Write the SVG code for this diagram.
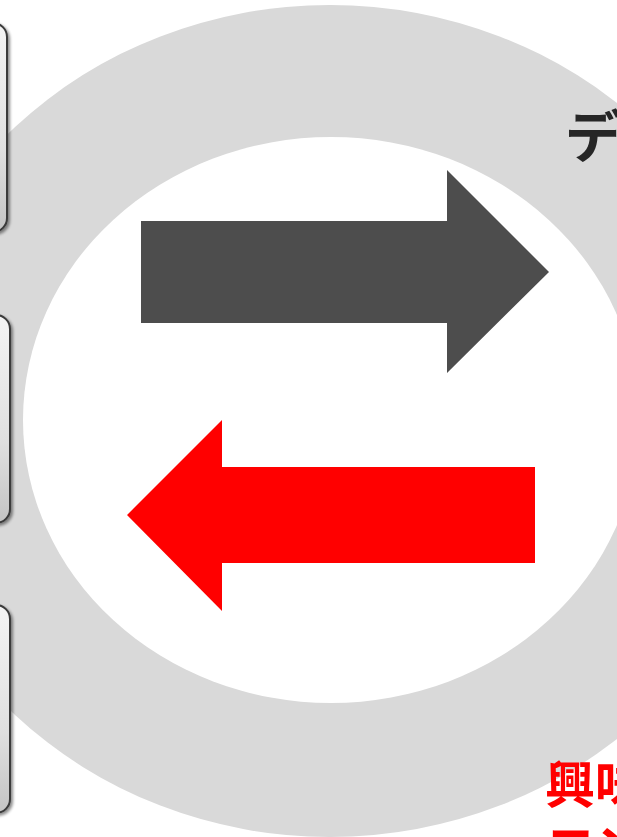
<svg xmlns="http://www.w3.org/2000/svg" width="617" height="837" viewBox="0 0 617 837">
<defs>
<linearGradient id="boxg" x1="0" y1="0" x2="0" y2="1">
<stop offset="0" stop-color="#f4f4f4"/>
<stop offset="0.6" stop-color="#e0e0e0"/>
<stop offset="1" stop-color="#c4c4c4"/>
</linearGradient>
<filter id="sh" x="-20%" y="-10%" width="140%" height="120%">
<feGaussianBlur in="SourceAlpha" stdDeviation="1.5"/>
<feOffset dx="1.5" dy="1.5"/>
<feComponentTransfer><feFuncA type="linear" slope="0.45"/></feComponentTransfer>
<feMerge><feMergeNode/><feMergeNode in="SourceGraphic"/></feMerge>
</filter>
</defs>
<style>
.box{fill:url(#boxg);stroke:#3a3a3a;stroke-width:2;filter:url(#sh)}
.jp{font-family:"Noto Sans CJK JP","Noto Sans",sans-serif;font-weight:bold}
</style>
<rect width="617" height="837" fill="#ffffff"/>
<g id="ring">
<ellipse cx="330" cy="421" rx="445" ry="416" fill="#d9d9d9"/>
<ellipse cx="331" cy="420" rx="308" ry="283" fill="#ffffff"/>
</g>
<g id="box1"><rect class="box" x="-100" y="23" width="107" height="209" rx="14"/></g>
<g id="box2"><rect class="box" x="-100" y="315" width="110" height="208" rx="14"/></g>
<g id="box3"><rect class="box" x="-100" y="605" width="110" height="208" rx="14"/></g>
<g id="connectors">
<polygon points="141,221 447,221 447,170 549,272 447,373 447,323 141,323" fill="#4d4d4d"/>
<polygon points="535,467 222,467 222,420 127,515 222,611 222,563 535,563" fill="#ff0000"/>
</g>
<g id="label-data"><text class="jp" x="565" y="157" font-size="56" fill="#262626">デ</text></g>
<g id="label-interest">
<text class="jp" x="545" y="803" font-size="50" fill="#ff0000">興味<tspan x="545" dy="63">コン</tspan></text>
</g>
</svg>
